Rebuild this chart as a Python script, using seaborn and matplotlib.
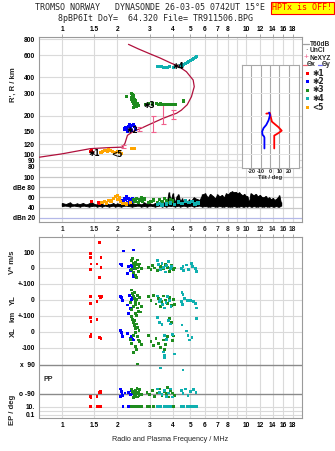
import numpy as np
import pandas as pd
import matplotlib
matplotlib.use("Agg")
import matplotlib.pyplot as plt
import seaborn as sns
from matplotlib.ticker import NullLocator

sns.set_style("white")
plt.rcParams["font.family"] = ["Liberation Sans", "DejaVu Sans"]

W, H = 335, 451
FREQ_LIM = (0.75, 20.2)

# ---------------- frequency ticks ----------------
top_ticks = [1, 1.5, 2, 3, 4, 5, 6, 7, 8, 10, 12, 14, 16, 18]
mid_ticks = [1, 1.5, 2, 3, 4, 5, 6, 7, 8, 9, 10, 12, 14, 16, 18]
bot_ticks = [1, 1.5, 2, 3, 4, 5, 6, 7, 8, 10, 12, 14, 16, 18]

# ---------------- virtual / real height panel ----------------
height_ticks = [80, 90, 100, 120, 150, 200, 300, 400, 600, 800]

prof_freq = [0.75, 1.0, 1.2, 1.43, 1.8, 2.13, 2.2, 2.27, 2.45, 2.69, 3.0, 3.5,
             3.93, 4.2, 4.46, 4.8, 5.06, 5.24, 5.17, 4.75, 4.28, 3.9, 3.4, 3.0, 2.6, 2.3]
prof_height = [95, 101, 106, 111, 113, 114, 122, 141, 152, 160, 172, 190,
               203, 210, 222, 245, 283, 339, 382, 444, 492, 520, 570, 614, 670, 727]

ne_freq = [2.15, 2.63, 3.12, 3.56, 4.0]
ne_height = [115, 158, 175, 210, 205]
ne_err = [3, 6, 25, 36, 17]

e1_freq = [1.43, 1.44, 1.46]
e1_h = [105, 107, 103]
e2_freq = [2.20, 2.23, 2.26, 2.30, 2.33, 2.36, 2.40, 2.44, 2.47, 2.50, 2.28, 2.38]
e2_h = [158, 162, 155, 165, 170, 160, 168, 172, 165, 158, 150, 153]
e3_freq = [2.24, 2.38, 2.41, 2.44, 2.40, 2.45, 2.38, 2.42, 2.47, 2.50, 2.44, 2.48,
           2.53, 2.57, 2.60, 2.50, 2.46, 2.55, 2.42, 2.52,
           2.85, 2.95, 3.1, 3.25, 3.35, 3.45, 3.55, 3.65, 3.75, 3.85, 3.95, 4.05, 4.15, 4.6]
e3_h = [285, 300, 295, 288, 280, 275, 270, 262, 268, 258, 252, 248,
        245, 252, 242, 238, 232, 236, 258, 262,
        247, 250, 248, 250, 245, 248, 246, 247, 244, 246, 245, 244, 246, 262]
e4_freq = [3.30, 3.38, 3.46, 3.55, 3.65, 3.75, 3.85, 4.05, 4.4, 4.5, 4.6, 4.7,
           4.8, 4.9, 5.0, 5.1, 5.2, 5.3, 5.4]
e4_h = [490, 485, 488, 482, 478, 480, 485, 482, 495, 500, 505, 512,
        520, 530, 540, 550, 560, 570, 585]
e5_freq = [1.63, 1.66, 1.70, 1.73, 1.76, 1.80, 1.84, 1.88, 1.92, 1.96, 2.0, 2.05,
           2.1, 2.4, 2.44, 2.47]
e5_h = [104, 106, 108, 107, 105, 109, 107, 106, 104, 103, 105, 103,
        102, 112, 111, 112]

mark_freq = [1.50, 2.00, 2.40, 3.00, 4.30]
mark_h = [101, 99, 155, 240, 487]
mark_text = ["\u27311", "<5", "\u27312", "\u27313", "\u27314"]

# tilt profile (inset)
tilt_x = [-4, 0, 0.5, 2, 6, 9, 12.5, 11, 8, 4.5, 4.5]
tilt_x_h = [208, 210, 200, 180, 170, 163, 153, 150, 145, 140, 111]
tilt_y = [-1, 0, -1.5, -4, -7, -8.5, -8, -6.5, -6, -6]
tilt_y_h = [212, 203, 185, 170, 160, 150, 142, 138, 135, 111]
tilt_ticks = [-20, -10, 0, 10, 20]

# ---------------- amplitude panel ----------------
amp_ticks = [20, 40, 60, 80, 100]
amp_labels = ["dBn 20", "40", "60", "dBe 80", "100"]

amp_freq = [1.00, 1.05, 1.10, 1.15, 1.20, 1.25, 1.30, 1.35, 1.40, 1.45, 1.50, 1.55,
            1.60, 1.65, 1.70, 1.75, 1.80, 1.85, 1.90, 1.95, 2.00, 2.10, 2.20, 2.30,
            2.40, 2.50, 2.60, 2.70, 2.80, 2.90, 3.00, 3.10, 3.20, 3.30, 3.40, 3.50,
            3.60, 3.70,
            3.80, 3.90, 4.00, 4.10, 4.20, 4.30, 4.40, 4.50, 4.60, 4.70, 4.80, 4.90,
            5.00, 5.20, 5.40, 5.60, 5.80, 6.00, 6.20, 6.40, 6.60, 6.80, 7.00, 7.20,
            7.40, 7.60, 7.80, 8.00, 8.20, 8.40, 8.60, 8.80, 9.00, 9.20, 9.40, 9.60,
            9.80, 10.0, 10.2, 10.4, 10.6, 10.8, 11.0, 11.3, 11.6, 11.9, 12.2, 12.5,
            12.8, 13.1, 13.4, 13.7, 14.0, 14.3, 14.6, 14.9, 15.2, 15.5]
amp_hi = [49, 47, 50, 46, 48, 47, 49, 46, 48, 50, 47, 46,
          49, 47, 45, 48, 46, 47, 49, 46, 48, 47, 50, 46,
          49, 47, 48, 46, 50, 47, 48, 46, 49, 47, 48, 46,
          50, 47,
          70, 55, 68, 50, 62, 66, 52, 58, 48, 54, 50, 56,
          52, 60, 57, 55, 66, 68, 60, 67, 63, 58, 66, 62,
          65, 60, 68, 66, 70, 72, 70, 71, 68, 70, 66, 64,
          67, 63, 62, 50, 68, 66, 64, 67, 62, 65, 61, 60,
          63, 58, 60, 56, 59, 55, 57, 60, 64, 50]
amp_lo = [43, 44, 42, 44, 43, 42, 44, 43, 42, 43, 44, 42,
          43, 42, 44, 43, 42, 43, 44, 42, 43, 42, 44, 43,
          42, 43, 44, 42, 43, 42, 44, 43, 42, 43, 44, 42,
          43, 42,
          44, 43, 44, 42, 43, 44, 42, 43, 44, 43, 42, 43,
          44, 42, 43, 44, 42, 43, 42, 42, 43, 42, 42, 43,
          42, 42, 43, 42, 42, 42, 43, 42, 42, 42, 43, 42,
          42, 43, 42, 44, 42, 42, 43, 42, 42, 43, 42, 42,
          43, 42, 42, 43, 42, 42, 43, 42, 42, 44]

a1_freq = [1.45, 1.58, 1.60]
a1_amp = [52, 50, 48]
a2_freq = [2.15, 2.20, 2.25, 2.30, 2.33, 2.38, 2.42, 2.28]
a2_amp = [54, 57, 61, 58, 55, 52, 58, 50]
a3_freq = [2.45, 2.5, 2.55, 2.6, 2.65, 2.7, 2.75, 2.8, 2.95, 3.05, 3.15, 3.3,
           3.4, 3.5, 3.6, 3.7, 3.8, 3.9, 4.0]
a3_amp = [56, 52, 58, 50, 55, 60, 53, 57, 50, 52, 55, 49,
          56, 52, 58, 54, 50, 55, 53]
a4_freq = [3.3, 3.4, 3.5, 3.7, 3.9, 4.1, 4.3, 4.5, 4.7, 4.9, 5.1, 5.3, 5.5]
a4_amp = [46, 48, 45, 47, 49, 46, 51, 48, 53, 50, 52, 47, 49]
a5_freq = [1.65, 1.70, 1.75, 1.80, 1.85, 1.90, 1.95, 2.0, 2.02, 2.05, 2.08, 2.15, 2.25, 2.35]
a5_amp = [50, 52, 49, 54, 53, 58, 62, 64, 56, 59, 52, 48, 47, 50]

# ---------------- drift / polarisation panel ----------------
# each entry: (frequencies, values) for one source in one band
red_V = ([1.43, 1.43, 1.44, 1.43, 1.60, 1.63, 1.55, 1.63, 1.60], [92, 67, 25, -8, 158, 67, 25, 4, -60])
red_YL = ([1.43, 1.44, 1.43, 1.60, 1.62, 1.64, 1.61, 1.55], [21, 24, -21, 25, 18, 22, 15, -8])
red_XL = ([1.43, 1.44, 1.55, 1.44, 1.43, 1.60, 1.63, 1.62], [89, 64, 79, -12, -27, -35, -40, -37])
red_PP = ([1.43, 1.44, 1.55, 1.60, 1.62, 1.63], [-108, -114, -108, -80, -77, -85])
red_EP = ([1.43, 1.55, 1.60, 1.62, 1.63], [12, 10, 11, 10, 9])

blue_V = ([2.16, 2.45, 2.08, 2.12, 2.10, 2.30, 2.27, 2.42, 2.44, 2.46, 2.35, 2.40],
          [106, 112, 25, 12, 20, 7, -33, -2, -48, -55, -15, 18])
blue_YL = ([2.08, 2.10, 2.12, 2.14, 2.33, 2.42, 2.27, 2.29, 2.37, 2.40],
           [20, 15, 5, -5, 26, 15, -31, -83, -52, 5])
blue_XL = ([2.08, 2.10, 2.12, 2.14, 2.28, 2.40, 2.46, 2.35, 2.43],
           [10, -5, -20, -28, -10, -30, -50, -40, -45])
blue_PP = ([2.08, 2.10, 2.12, 2.14, 2.09, 2.30, 2.35, 2.40, 2.45, 2.20],
           [-60, -75, -90, -100, -108, -80, -95, -70, -88, -85])
blue_EP = ([2.15, 2.30, 2.35, 2.42, 2.45], [10, 10, 10, 10, 10])

green_V = ([2.38, 2.42, 2.45, 2.48, 2.50, 2.52, 2.55, 2.58, 2.60, 2.62, 2.45, 2.40, 2.50, 2.55,
            2.65, 2.70, 2.47, 2.57, 2.95, 3.05, 3.10, 3.20, 3.30, 3.45, 3.55, 3.65, 3.75, 3.85,
            3.95, 4.05, 3.50, 4.10],
           [45, 60, 30, 15, -5, 38, 20, 0, -20, 10, -30, -10, -45, -60,
            25, -5, 5, 50, 5, -10, 15, 0, -15, 10, -5, 20, 5, -20,
            15, -10, 25, 0])
green_YL = ([2.38, 2.42, 2.45, 2.48, 2.50, 2.52, 2.55, 2.58, 2.60, 2.62, 2.44, 2.40, 2.50, 2.55,
             2.65, 2.70, 2.47, 2.57, 2.68, 2.36, 2.95, 3.05, 3.15, 3.25, 3.35, 3.45, 3.55, 3.65,
             3.75, 3.85, 3.95, 4.05, 3.50, 4.10],
            [62, 40, 25, 10, -10, -30, 5, -50, -70, -20, -40, -60, -85, -95,
             15, -40, 45, 30, -75, -15, 20, -5, 30, -25, 10, -40, 25, 0,
             -20, 15, -35, 5, -10, -30])
green_XL = ([2.38, 2.42, 2.45, 2.48, 2.50, 2.52, 2.55, 2.58, 2.60, 2.62, 2.44, 2.40, 2.50, 2.55,
             2.65, 2.70, 2.47, 2.57, 2.46, 2.36, 2.95, 3.05, 3.15, 3.25, 3.35, 3.45, 3.55, 3.65,
             3.75, 3.85, 3.95, 4.05, 3.60, 4.00],
            [95, 80, 60, 40, 20, -5, 50, -30, -50, 10, -20, -70, -90, -110,
             -60, -80, 70, 30, -130, -45, -20, -60, -85, -40, -70, -95, -50, -80,
             -30, 85, 60, -25, -110, -55])
green_PP = ([2.40, 2.42, 2.45, 2.48, 2.50, 2.52, 2.55, 2.58, 2.60, 2.62, 2.65, 2.70, 2.44, 2.56,
             2.58, 2.90, 3.00, 3.10, 3.20, 3.30, 3.40, 3.50, 3.60, 3.70, 3.80, 3.90, 4.00, 4.10, 3.75],
            [-60, -75, -85, -95, -105, -70, -90, -110, -80, -100, -65, -95, -115, -55,
             96, -80, -95, -70, -105, -85, -60, -100, -75, -90, -110, -70, -85, -100, -50])
green_EP = ([2.40, 2.45, 2.50, 2.55, 2.60, 2.65, 2.70, 2.90, 3.00, 3.15, 3.30, 3.45, 3.60, 3.75,
             3.90, 4.05],
            [10, 9, 10, 11, 10, 9, 10, 10, 9, 10, 11, 10, 9, 10, 10, 11])

teal_V = ([3.30, 3.35, 3.42, 3.50, 3.58, 3.65, 3.72, 3.80, 3.88, 3.95, 4.45, 4.55, 4.75, 4.90,
           5.05, 5.15, 5.30, 5.40, 4.60],
          [45, 20, -10, 30, 5, -25, 15, 40, -5, 10, -2, 10, 19, -10, 29, 8, -5, -23, -15])
teal_YL = ([3.30, 3.38, 3.45, 3.52, 3.60, 3.68, 3.75, 3.85, 3.92, 4.50, 4.55, 4.48, 4.52, 4.80,
            5.00, 5.20, 5.30, 5.40, 4.65],
           [25, -10, 5, -30, -50, -15, 20, -5, -40, 48, 35, -10, -30, -5, -3, -8, -20, -50, 10])
teal_XL = ([3.30, 3.40, 3.50, 3.60, 3.70, 3.80, 3.90, 4.00, 4.50, 4.75, 4.85, 4.95, 5.40, 5.10,
            3.55, 3.60, 3.62, 4.10],
           [90, 60, 45, -20, -45, 70, 50, -15, 44, 6, -20, -50, 83, -35, -125, -145, -160, -137])
teal_PP = ([3.30, 3.40, 3.50, 3.60, 3.70, 3.80, 3.90, 4.45, 4.55, 4.70, 4.85, 5.00, 5.20, 5.35,
            3.45, 4.55, 4.00],
           [-60, -80, -95, -70, -105, -85, -60, -70, -90, -60, -100, -75, -65, -80, 71, 59, -110])
teal_EP = ([3.30, 3.45, 3.60, 3.75, 3.90, 4.45, 4.60, 4.80, 5.00, 5.20, 5.40],
           [10, 10, 9, 10, 11, 10, 10, 10, 10, 10, 10])

low_ticks = [100, 0, -100, -200, -300, -400, -500, -606, -786, -866, -916]
low_labels = ["100", "0", "+-100", "0", "+-100", "0", "-100", "x  90", "o -90", "10.", "0.1"]

PALETTE = {"*1": "#ff0000", "*2": "#0000ff", "*3": "#1e8c1e", "*4": "#10b0b0", "<5": "#ffa500"}
PROFILE_COLOR = "#b0103c"
NE_COLOR = "#f0608c"
GRID = "#dadada"
SPINE = "#9a9a9a"

BAND_OFFSET = {"V": 0, "YL": -200, "XL": -400, "PP": -696}
EP_ZERO, EP_DECADE = -891, 25


def band_row(band, vals):
    vals = np.asarray(vals, float)
    if band == "EP":
        return EP_ZERO + EP_DECADE * np.log10(vals)
    return vals + BAND_OFFSET[band]


def rect(x0, y0, x1, y1):
    return [x0 / W, 1 - y1 / H, (x1 - x0) / W, (y1 - y0) / H]


fig = plt.figure(figsize=(W / 100, H / 100), dpi=100)
ax_h = fig.add_axes(rect(39, 37, 302, 170))
ax_a = fig.add_axes(rect(39, 170, 302, 222))
ax_l = fig.add_axes(rect(39, 237, 302, 418))

TICK_FONT = dict(fontsize=4.8, fontweight="bold")

for ax in (ax_h, ax_a, ax_l):
    ax.set_xscale("log")
    ax.set_xlim(*FREQ_LIM)
    ax.minorticks_off()
    for f in mid_ticks:
        ax.axvline(f, color=GRID, lw=0.8, zorder=0)
    for s in ax.spines.values():
        s.set_color(SPINE)
        s.set_linewidth(0.8)
    ax.tick_params(axis="both", colors="black", length=2, width=0.6, pad=1, labelsize=4.8)
    ax.tick_params(axis="both", color=SPINE)

# ---- height panel
ax_h.set_yscale("log")
ax_h.set_ylim(75.5, 830)
ax_h.minorticks_off()
for hv in height_ticks:
    ax_h.axhline(hv, color=GRID, lw=0.8, zorder=0)
ax_h.set_yticks(height_ticks)
ax_h.set_yticklabels([str(v) for v in height_ticks], **TICK_FONT)
ax_h.xaxis.tick_top()
ax_h.set_xticks(top_ticks)
ax_h.set_xticklabels([f"{t:g}" for t in top_ticks], **TICK_FONT)
ax_h.spines["bottom"].set_visible(False)

sns.lineplot(x=prof_freq, y=prof_height, sort=False, estimator=None, color=PROFILE_COLOR,
             lw=0.9, ax=ax_h, zorder=3)
ax_h.errorbar(ne_freq, ne_height, yerr=ne_err, fmt="none", ecolor=NE_COLOR, elinewidth=0.8,
              capsize=1.8, capthick=0.8, zorder=4)

echo_df = pd.concat([
    pd.DataFrame({"freq": e1_freq, "height": e1_h, "source": "*1"}),
    pd.DataFrame({"freq": e2_freq, "height": e2_h, "source": "*2"}),
    pd.DataFrame({"freq": e3_freq, "height": e3_h, "source": "*3"}),
    pd.DataFrame({"freq": e4_freq, "height": e4_h, "source": "*4"}),
    pd.DataFrame({"freq": e5_freq, "height": e5_h, "source": "<5"}),
])
sns.scatterplot(data=echo_df, x="freq", y="height", hue="source", palette=PALETTE, marker="s",
                s=5, linewidth=0, legend=False, ax=ax_h, zorder=5)
for f, hv, t in zip(mark_freq, mark_h, mark_text):
    ax_h.text(f, hv, t, fontsize=5.5, fontweight="bold", color="black", ha="center",
              va="center", family=["DejaVu Sans"], zorder=6)
ax_h.set_xlabel("")
ax_h.set_ylabel("")

# ---- amplitude panel
ax_a.set_ylim(11.5, 114)
for av in amp_ticks:
    ax_a.axhline(av, color="#b4b8e8" if av == 20 else "#c8c8c8", lw=0.9, zorder=0)
ax_a.set_yticks(amp_ticks)
ax_a.set_yticklabels(amp_labels, **TICK_FONT)
ax_a.set_xticks([])
ax_a.spines["top"].set_visible(False)
ax_a.fill_between(amp_freq, amp_lo, amp_hi, color="black", lw=0.6, zorder=3)
ax_a.vlines(amp_freq, amp_lo, amp_hi, color="black", lw=1.0, zorder=3)
amp_df = pd.concat([
    pd.DataFrame({"freq": a1_freq, "amp": a1_amp, "source": "*1"}),
    pd.DataFrame({"freq": a2_freq, "amp": a2_amp, "source": "*2"}),
    pd.DataFrame({"freq": a3_freq, "amp": a3_amp, "source": "*3"}),
    pd.DataFrame({"freq": a4_freq, "amp": a4_amp, "source": "*4"}),
    pd.DataFrame({"freq": a5_freq, "amp": a5_amp, "source": "<5"}),
])
sns.scatterplot(data=amp_df, x="freq", y="amp", hue="source", palette=PALETTE, marker="s",
                s=6, linewidth=0, legend=False, ax=ax_a, zorder=4)
ax_a.set_xlabel("")
ax_a.set_ylabel("")

# ---- drift / polarisation panel
rows = []
for src, bands in [("*1", dict(V=red_V, YL=red_YL, XL=red_XL, PP=red_PP, EP=red_EP)),
                   ("*2", dict(V=blue_V, YL=blue_YL, XL=blue_XL, PP=blue_PP, EP=blue_EP)),
                   ("*3", dict(V=green_V, YL=green_YL, XL=green_XL, PP=green_PP, EP=green_EP)),
                   ("*4", dict(V=teal_V, YL=teal_YL, XL=teal_XL, PP=teal_PP, EP=teal_EP))]:
    for band, (fr, vals) in bands.items():
        rows.append(pd.DataFrame({"freq": fr, "row": band_row(band, vals), "source": src}))
low_df = pd.concat(rows)

ax_l.set_ylim(-937.5, 193.75)
for r in low_ticks + [-891]:
    dark = r in (-606, -786)
    ax_l.axhline(r, color="#8a8a8a" if dark else GRID, lw=1.0 if dark else 0.8, zorder=0)
ax_l.set_yticks(low_ticks)
ax_l.set_yticklabels(low_labels, **TICK_FONT)
ax_l.set_xticks(bot_ticks)
ax_l.set_xticklabels([f"{t:g}" for t in bot_ticks], **TICK_FONT)
sns.scatterplot(data=low_df, x="freq", y="row", hue="source", palette=PALETTE, marker="s",
                s=4, linewidth=0, legend=False, ax=ax_l, zorder=4)
ax_l.set_ylabel("")
ax_l.set_xlabel("Radio and Plasma Frequency / MHz", fontsize=5.2, labelpad=5)
ax_l.text(0.016, -694, "PP", transform=ax_l.get_yaxis_transform(), fontsize=5,
          fontweight="bold", va="center", ha="left")
# middle tick row (between the two frames) also shows 9
top_lbl = ax_l.secondary_xaxis("top")
top_lbl.set_xticks(mid_ticks)
top_lbl.xaxis.set_minor_locator(NullLocator())
top_lbl.set_xticklabels([f"{t:g}" for t in mid_ticks], **TICK_FONT)
top_lbl.tick_params(length=2, width=0.6, pad=1, color=SPINE)
top_lbl.spines["top"].set_visible(False)

# ---- tilt inset
ax_t = fig.add_axes(rect(242, 65, 299, 168))
ax_t.set_facecolor("white")
ax_t.set_yscale("log")
ax_t.set_ylim(78, 500)
ax_t.set_xlim(-30, 31)
ax_t.minorticks_off()
for tv in tilt_ticks:
    ax_t.axvline(tv, color="#a8a8a8", lw=0.8, zorder=0)
for hv in [100, 120, 150, 200, 300, 400]:
    ax_t.axhline(hv, color="#e4e4e4", lw=0.7, zorder=0)
sns.lineplot(x=tilt_x, y=tilt_x_h, sort=False, estimator=None, color="#ff0000", lw=1.3, ax=ax_t)
sns.lineplot(x=tilt_y, y=tilt_y_h, sort=False, estimator=None, color="#0000ff", lw=1.3, ax=ax_t)
ax_t.set_yticks([])
ax_t.set_xticks(tilt_ticks)
ax_t.set_xticklabels([str(t) for t in tilt_ticks], fontsize=4.0, fontweight="bold")
ax_t.tick_params(axis="x", length=0, pad=0.8)
ax_t.set_xlabel("Tilt / deg", fontsize=4.2, fontweight="bold", labelpad=0.5)
ax_t.set_ylabel("")
for s in ax_t.spines.values():
    s.set_color("#a8a8a8")
    s.set_linewidth(0.8)

# ---- axis titles at the left
LAB = dict(fontsize=5.6, fontweight="bold", rotation=90, ha="center", va="center")
fig.text(13 / W, 1 - 85 / H, "R', R / km", **LAB)
fig.text(13 / W, 1 - 262 / H, "V* m/s", **LAB)
fig.text(13 / W, 1 - 300 / H, "YL", **LAB)
fig.text(13 / W, 1 - 316 / H, "km", **LAB)
fig.text(13 / W, 1 - 332 / H, "XL", **LAB)
fig.text(13 / W, 1 - 410 / H, "EP / deg", **LAB)

# ---- header
MONO = ["DejaVu Sans Mono"]
fig.text(150 / W, 1 - 7.5 / H, "TROMSO NORWAY   DYNASONDE 26-03-05 0742UT 15\u00b0E",
         family=MONO, fontsize=6, ha="center", va="center")
fig.text(156 / W, 1 - 18.5 / H, "8pBP6It DoY=  64.320 File= TR911506.BPG",
         family=MONO, fontsize=6, ha="center", va="center")
fig.text(302.5 / W, 1 - 8 / H, "HPTx is OFF!", family=MONO, fontsize=6, color="#ff0000",
         ha="center", va="center",
         bbox=dict(boxstyle="square,pad=0.2", facecolor="#ffff00", edgecolor="#ff0000", lw=0.8))

# ---- key at the right
KEY = dict(fontsize=4.8, fontweight="bold", va="center", ha="left")
key_rows = [("T60dB", 44, "#a0a0a0", "line"), ("UnCl", 51, "black", "dot"),
            ("NeXYZ", 58, NE_COLOR, "plus")]
for txt, yy, col, kind in key_rows:
    if kind == "line":
        fig.lines.append(plt.Line2D([303 / W, 309 / W], [1 - yy / H] * 2, color=col, lw=0.9,
                                    transform=fig.transFigure))
    elif kind == "dot":
        fig.text(306 / W, 1 - yy / H, "\u00b7", fontsize=5, ha="center", va="center")
    else:
        fig.text(306 / W, 1 - yy / H, "+", fontsize=6, color=col, ha="center", va="center")
    fig.text(310 / W, 1 - yy / H, txt, **KEY)
fig.lines.append(plt.Line2D([303 / W, 307 / W], [1 - 65 / H] * 2, color="#f06070", lw=0.9,
                            transform=fig.transFigure))
fig.text(307 / W, 1 - 65 / H, "\u0398x", **KEY)
fig.lines.append(plt.Line2D([318 / W, 322 / W], [1 - 65 / H] * 2, color="#7070ff", lw=0.9,
                            transform=fig.transFigure))
fig.text(322 / W, 1 - 65 / H, "\u0398y", **KEY)

key_src = ["*1", "*2", "*3", "*4", "<5"]
key_txt = ["\u27311", "\u27312", "\u27313", "\u27314", "<5"]
key_y = [73, 81.5, 90, 98.5, 107]
for src, txt, yy in zip(key_src, key_txt, key_y):
    fig.patches.append(plt.Rectangle(((305.5) / W, 1 - (yy + 1.5) / H), 3 / W, 3 / H,
                                     facecolor=PALETTE[src], edgecolor="none",
                                     transform=fig.transFigure))
    fig.text(312 / W, 1 - yy / H, txt, fontsize=5.5, fontweight="bold", va="center",
             ha="left", family=["DejaVu Sans"])

fig.savefig("out.png", dpi=100)
